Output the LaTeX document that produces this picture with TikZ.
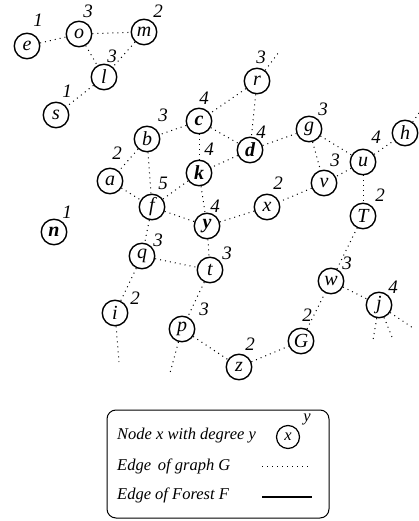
\documentclass[tikz,border=0pt]{standalone}
\usepackage{fontspec}
\setmainfont{Liberation Serif}
\begin{document}
\begin{tikzpicture}[x=1pt,y=-1pt,
  vtx/.style={circle, draw, line width=1.4pt, minimum size=25.5pt, inner sep=0pt,
    font=\fontsize{20}{20}\selectfont\itshape},
  bvtx/.style={vtx, font=\fontsize{20}{20}\selectfont\itshape\bfseries},
  deg/.style={inner sep=0pt, font=\fontsize{19}{19}\selectfont\itshape},
  gedge/.style={line width=1pt, dash pattern=on 1pt off 4pt},
  fedge/.style={line width=1.1pt},
  legtext/.style={anchor=west, inner sep=0pt, font=\fontsize{16.5}{16.5}\selectfont\itshape},
  lvtx/.style={circle, draw, line width=1.2pt, minimum size=23pt, inner sep=0pt,
    font=\fontsize{16.5}{16.5}\selectfont\itshape}]
\useasboundingbox (0,0) rectangle (419,521);

% vertices
\node[vtx]  (e) at (27,46)  {e};
\node[vtx]  (o) at (79,34)  {o};
\node[vtx]  (m) at (144,32) {m};
\node[vtx]  (l) at (104,77) {l};
\node[vtx]  (s) at (56,115) {s};
\node[vtx]  (r) at (257,81) {r};
\node[bvtx] (c) at (199,121) {c};
\node[bvtx] (d) at (250,150) {d};
\node[vtx]  (g) at (309,129) {g};
\node[vtx]  (h) at (405,133) {h};
\node[vtx]  (u) at (363,162) {u};
\node[vtx]  (v) at (324,183) {v};
\node[vtx]  (T) at (363,216) {T};
\node[vtx]  (x) at (267,207) {x};
\node[bvtx] (k) at (199,173) {k};
\node[vtx]  (b) at (147,139) {b};
\node[vtx]  (a) at (110,181) {a};
\node[vtx]  (f) at (152,207) {f};
\node[bvtx] (n) at (54,232)  {n};
\node[bvtx] (y) at (207,226) {y};
\node[vtx]  (q) at (142,256) {q};
\node[vtx]  (t) at (210,270) {t};
\node[vtx]  (i) at (115,313) {i};
\node[vtx]  (p) at (182,329) {p};
\node[vtx]  (z) at (239,367) {z};
\node[vtx]  (G) at (301,341) {G};
\node[vtx]  (w) at (331,281) {w};
\node[vtx]  (j) at (379,305) {j};

% degrees
\node[deg] (de) at (38,20)  {1};
\node[deg] (do) at (88,11)  {3};
\node[deg] (dm) at (158,11) {2};
\node[deg] (dl) at (112,56) {3};
\node[deg] (ds) at (67,91)  {1};
\node[deg] (dr) at (261,57) {3};
\node[deg] (dc) at (204,98) {4};
\node[deg] (db) at (163,115) {3};
\node[deg] (dd) at (261,132) {4};
\node[deg] (dg) at (323,109) {3};
\node[deg] (du) at (376,137) {4};
\node[deg] (dk) at (209,149) {4};
\node[deg] (da) at (117,153) {2};
\node[deg] (df) at (163,183) {5};
\node[deg] (dv) at (335,160) {3};
\node[deg] (dx) at (278,183) {2};
\node[deg] (dT) at (380,195) {2};
\node[deg] (dy) at (215,206) {4};
\node[deg] (dn) at (67,212) {1};
\node[deg] (dq) at (158,240) {3};
\node[deg] (dt) at (227,253) {3};
\node[deg] (dw) at (347,263) {3};
\node[deg] (dj) at (393,287) {4};
\node[deg] (di) at (135,298) {2};
\node[deg] (dp) at (204,309) {3};
\node[deg] (dz) at (250,344) {2};
\node[deg] (dG) at (307,315) {2};

% loose ends of edges leaving the drawing
\coordinate (rout) at (279,52);
\coordinate (hout) at (419,113);
\coordinate (iout) at (119,362);
\coordinate (pout) at (170,373);
\coordinate (jout1) at (373,340);
\coordinate (jout2) at (392,337);
\coordinate (jout3) at (413,328);

% edges of G
\draw[gedge] (e) -- (o);
\draw[gedge] (o) -- (m);
\draw[gedge] (o) -- (l);
\draw[gedge] (m) -- (l);
\draw[gedge] (l) -- (s);
\draw[gedge] (r) -- (rout);
\draw[gedge] (r) -- (c);
\draw[gedge] (r) -- (d);
\draw[gedge] (c) -- (b);
\draw[gedge] (c) -- (k);
\draw[gedge] (c) -- (d);
\draw[gedge] (d) -- (k);
\draw[gedge] (d) -- (g);
\draw[gedge] (g) -- (v);
\draw[gedge] (g) -- (u);
\draw[gedge] (u) -- (h);
\draw[gedge] (h) -- (hout);
\draw[gedge] (u) -- (v);
\draw[gedge] (u) -- (T);
\draw[gedge] (v) -- (x);
\draw[gedge] (x) -- (y);
\draw[gedge] (k) -- (f);
\draw[gedge] (k) -- (y);
\draw[gedge] (b) -- (a);
\draw[gedge] (b) -- (f);
\draw[gedge] (a) -- (f);
\draw[gedge] (f) -- (y);
\draw[gedge] (f) -- (q);
\draw[gedge] (y) -- (t);
\draw[gedge] (q) -- (t);
\draw[gedge] (q) -- (i);
\draw[gedge] (i) -- (iout);
\draw[gedge] (t) -- (p);
\draw[gedge] (p) -- (pout);
\draw[gedge] (p) -- (z);
\draw[gedge] (z) -- (G);
\draw[gedge] (G) -- (w);
\draw[gedge] (w) -- (T);
\draw[gedge] (w) -- (j);
\draw[gedge] (j) -- (jout1);
\draw[gedge] (j) -- (jout2);
\draw[gedge] (j) -- (jout3);

% legend
\node[draw, line width=1pt, rounded corners=9pt, minimum width=222pt, minimum height=108pt,
  inner sep=0pt] (legend) at (218,464) {};
\node[legtext] (l1) at (117,436) {Node x with degree y};
\node[lvtx] (lx) at (288,437) {x};
\node[inner sep=0pt, font=\fontsize{16.5}{16.5}\selectfont\itshape] (ly) at (307,419) {y};
\node[legtext] (l2) at (117,466) {Edge\, of graph G};
\node[legtext] (l3) at (117,495) {Edge of Forest F};
\coordinate (ga) at (262,466);
\coordinate (gb) at (309,466);
\coordinate (fa) at (262,497);
\coordinate (fb) at (312,497);
\draw[gedge] (ga) -- (gb);
\draw[fedge] (fa) -- (fb);
\end{tikzpicture}
\end{document}
